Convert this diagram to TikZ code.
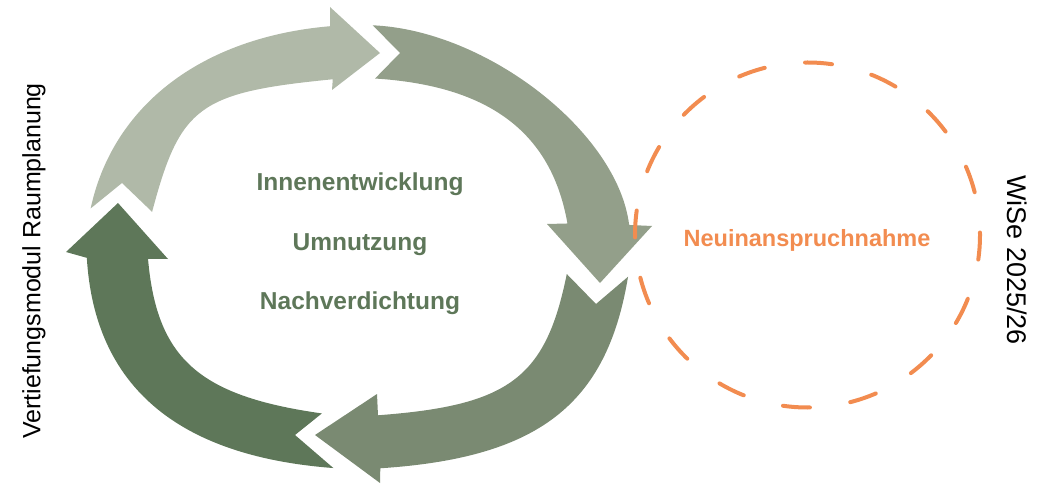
\documentclass[tikz,border=0pt]{standalone}
\usepackage{fontspec}
\setmainfont{Liberation Sans}
\usepackage{tikz}
\usetikzlibrary{positioning}
\definecolor{cyclelight}{HTML}{B0B9A8}
\definecolor{cyclemid}{HTML}{939F8A}
\definecolor{cyclelow}{HTML}{7A8A72}
\definecolor{cycledark}{HTML}{5E7759}
\definecolor{neuorange}{HTML}{F28C50}
\tikzset{
    steplabel/.style={font=\bfseries\fontsize{24.5}{29}\selectfont,
    text=cycledark, anchor=base},
    sidelabel/.style={font=\fontsize{25}{30}\selectfont, text=black},
}
% one edge of a ring arrow: x radius, y radius, from angle, to angle, bulge
\newcommand\bandedge[5]{%
    .. controls ({#1*cos(#3)-(4/3)*tan(((#4)-(#3))/4)*#5*#1*sin(#3)},
                 {#2*sin(#3)+(4/3)*tan(((#4)-(#3))/4)*#5*#2*cos(#3)})
       and ({#1*cos(#4)+(4/3)*tan(((#4)-(#3))/4)*#5*#1*sin(#4)},
            {#2*sin(#4)-(4/3)*tan(((#4)-(#3))/4)*#5*#2*cos(#4)})
    .. ({#1*cos(#4)}, {#2*sin(#4)})}

\begin{document}
\begin{tikzpicture}[x=1pt, y=1pt,
        neucircle/.style={circle, draw=neuorange, line width=4pt,
        line cap=round, dash pattern=on 27pt off 40.74pt, dash phase=24.5pt,
        minimum size=345pt, inner sep=0pt}
    ]
    \useasboundingbox (0,0) rectangle (1040,485);
    % the four cycle arrows, clockwise
    \begin{scope}[shift={(358.5,238)}]
        \fill[cyclelight] (170:272pt and 222pt) \bandedge{272}{222}{170}{96}{1.06}
            -- (-28.5,240) -- (21.5,194) -- (-26.5,157)
            -- (97:211pt and 169pt) \bandedge{211}{169}{97}{168}{1.5}
            -- (-236.5,64) -- cycle;
        \fill[cyclemid] (87:272pt and 222pt) \bandedge{272}{222}{87}{5.7}{0.85}
            -- (293.5,21) -- (241.5,-36) -- (188.5,23)
            -- (8:211pt and 169pt) \bandedge{211}{169}{8}{85.5}{1.16}
            -- (41.5,194) -- cycle;
        \fill[cyclelow] (-7.7:272pt and 222pt) \bandedge{272}{222}{-7.7}{-85.4}{1.24}
            -- (21.5,-236) -- (-43.5,-188) -- (18.5,-147)
            -- (-84.7:211pt and 169pt) \bandedge{211}{169}{-84.7}{-9.2}{1.37}
            -- (237.5,-57) -- cycle;
        \fill[cycledark] (264.7:272pt and 222pt) \bandedge{272}{222}{264.7}{182.8}{1.16}
            -- (-292.5,-5) -- (-240.5,44) -- (-190.5,-12)
            -- (184:211pt and 169pt) \bandedge{211}{169}{184}{260}{1.29}
            -- (-63.5,-188) -- cycle;
    \end{scope}
    % labels in the middle of the cycle
    \node[steplabel] (innen) at (360,294) {Innenentwicklung};
    \node[steplabel, below=59pt of innen.base, anchor=base] (umnutz) {Umnutzung};
    \node[steplabel, below=59pt of umnutz.base, anchor=base] (nachverd) {Nachverdichtung};
    % dashed circle on the right
    \node[neucircle] (neu) at (807.5,250) {};
    \node[font=\bfseries\fontsize{23.5}{28}\selectfont, text=neuorange] (neulabel)
        at (807,245) {Neuinanspruchnahme};
    % side captions
    \node[sidelabel, rotate=90] (modul) at (34,224) {Vertiefungsmodul Raumplanung};
    \node[sidelabel, rotate=-90, font=\fontsize{27}{32}\selectfont] (semester)
        at (1017,225) {WiSe 2025/26};
\end{tikzpicture}
\end{document}
